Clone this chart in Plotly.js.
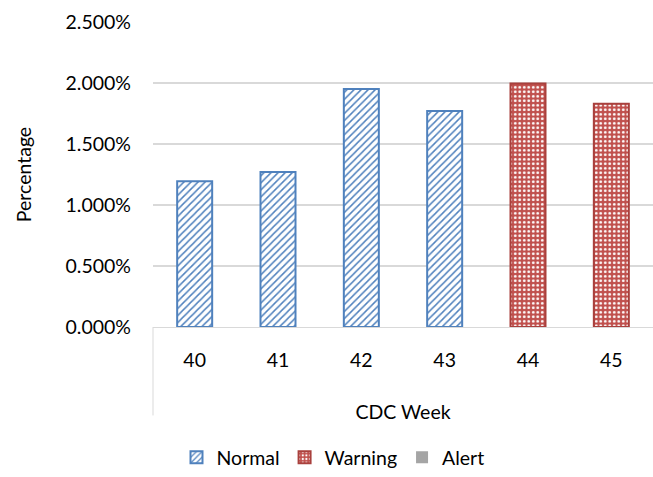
<!DOCTYPE html>
<html>
<head>
<meta charset="utf-8">
<script src="https://cdn.plot.ly/plotly-3.0.1.min.js"></script>
<style>html,body{margin:0;padding:0;background:#fff;}#chart{width:653px;height:477px;}</style>
</head>
<body>
<div id="chart"></div>
<script>
const weeks = ['40', '41', '42', '43', '44', '45'];
const normalValues = [0.01195, 0.0127, 0.0195, 0.0177, null, null];
const warningValues = [null, null, null, null, 0.01995, 0.0183];
const alertValues = [null, null, null, null, null, null];
const yTicks = [0, 0.005, 0.01, 0.015, 0.02, 0.025];

const font = {family: 'Lato, Calibri, sans-serif', size: 19.5, color: '#000'};

const traces = [
  {type: 'bar', name: 'Normal', x: weeks, y: normalValues,
   marker: {color: '#ffffff', line: {color: '#4f81bd', width: 2},
            pattern: {shape: '/', fgcolor: '#4f81bd', bgcolor: '#ffffff', size: 5, solidity: 0.3, fillmode: 'replace'}}},
  {type: 'bar', name: 'Warning', x: weeks, y: warningValues,
   marker: {color: '#c0504d', line: {color: '#a9403d', width: 2},
            pattern: {shape: '.', fgcolor: '#ffffff', bgcolor: '#c0504d', size: 4.5, solidity: 0.3, fillmode: 'replace'}}},
  {type: 'bar', name: 'Alert', x: weeks, y: alertValues,
   marker: {color: '#a5a5a5'}}
];

const layout = {
  width: 653, height: 477,
  margin: {l: 153, r: 0, t: 22, b: 139},
  paper_bgcolor: '#fff', plot_bgcolor: '#fff',
  font: font,
  barmode: 'overlay',
  bargap: 0.58,
  showlegend: true,
  legend: {orientation: 'h', x: 0.36, xanchor: 'center', y: -0.43, yanchor: 'middle',
           font: font, itemwidth: 30, traceorder: 'normal'},
  xaxis: {type: 'category', showline: true, linecolor: '#d9d9d9', linewidth: 1,
          ticks: '', ticklabelstandoff: 16, tickfont: font,
          title: {text: 'CDC Week', font: font, standoff: 34}, automargin: false},
  yaxis: {range: [0, 0.025], tickvals: yTicks, tickformat: '.3%',
          showgrid: true, gridcolor: '#d9d9d9', gridwidth: 1.5, zeroline: false,
          showline: false, ticks: '', ticklabelstandoff: 21, tickfont: font,
          title: {text: 'Percentage', font: font, standoff: 28}, automargin: false},
  shapes: [
    {type: 'line', xref: 'paper', yref: 'paper', x0: 0, x1: 0, y0: 0, y1: -0.29,
     line: {color: '#d9d9d9', width: 1}}
  ]
};

Plotly.newPlot('chart', traces, layout, {displayModeBar: false, staticPlot: true});
</script>
</body>
</html>
